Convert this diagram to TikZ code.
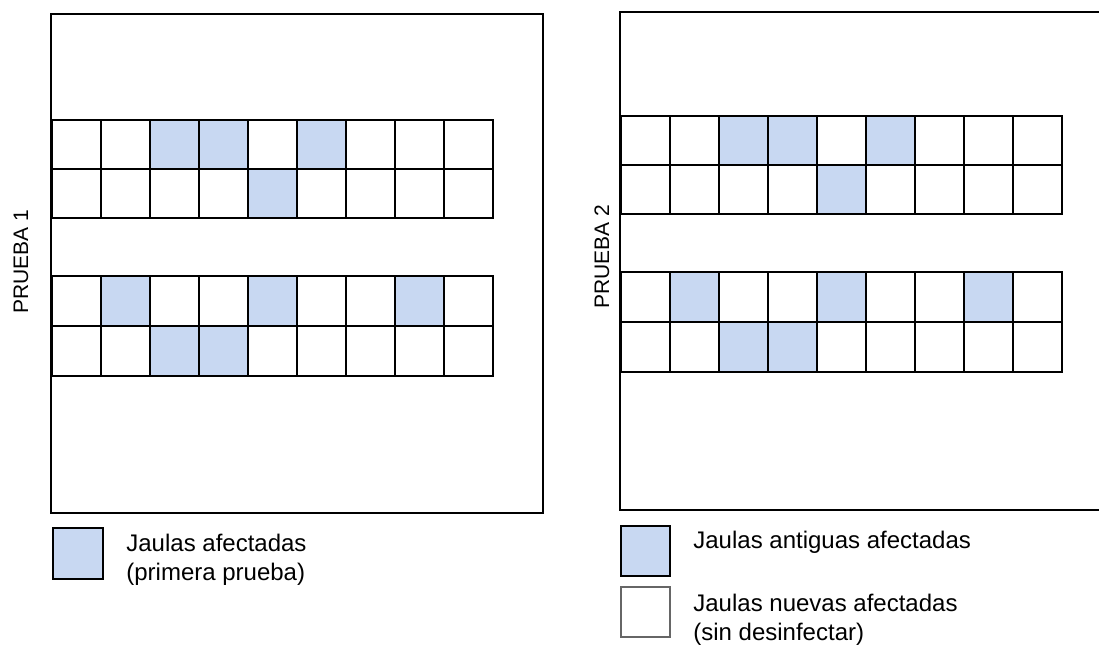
\documentclass[tikz,border=0pt]{standalone}
\usepackage{fontspec}
\setmainfont{Liberation Sans}
\definecolor{afectada}{RGB}{200,216,242}
\tikzset{
  celda/.style={fill=afectada},
  linea/.style={line width=0.6pt},
  leyenda/.style={anchor=base west, inner sep=0pt, font=\fontsize{12}{14}\selectfont},
  prueba/.style={rotate=90, font=\fontsize{10.5}{12}\selectfont}
}
\begin{document}
\begin{tikzpicture}[x=0.5pt,y=-0.5pt]
\useasboundingbox (0,0) rectangle (1099,646);

% marcos
\draw[linea] (51,14) rectangle (543,513);
\draw[linea] (1099,12) -- (620,12) -- (620,510) -- (1099,510);
\node[prueba] (prueba1) at (21,262) {PRUEBA 1};
\node[prueba] (prueba2) at (602,257) {PRUEBA 2};

% jaulas, igual en las dos pruebas
\foreach \dx/\dy in {52/120,621/116}{
\begin{scope}[shift={(\dx,\dy)}]
\foreach \c/\y/\h in {3/0/49,4/0/49,6/0/49,5/49/49,2/156/50,5/156/50,8/156/50,3/206/50,4/206/50}
  \fill[celda] ({(\c-1)*49},\y) rectangle +(49,\h);
\foreach \y/\h in {0/49,156/50}{
  \draw[linea] (0,\y) rectangle (441,\y+2*\h);
  \draw[linea] (0,\y+\h) -- (441,\y+\h);
  \foreach \i in {1,...,8}
    \draw[linea] (\i*49,\y) -- (\i*49,\y+2*\h);
}
\end{scope}
}

% leyenda prueba 1
\draw[linea,celda] (53,528) rectangle (103,579);
\node[leyenda] (afectadas) at (126,552) {Jaulas afectadas};
\node[leyenda] (primera) at (126,581) {(primera prueba)};

% leyenda prueba 2
\draw[linea,celda] (621,526) rectangle (670,576);
\draw[linea,black!60] (621,587) rectangle (670,637);
\node[leyenda] (antiguas) at (693,549) {Jaulas antiguas afectadas};
\node[leyenda] (nuevas) at (693,612) {Jaulas nuevas afectadas};
\node[leyenda] (sindes) at (693,641) {(sin desinfectar)};
\end{tikzpicture}
\end{document}
